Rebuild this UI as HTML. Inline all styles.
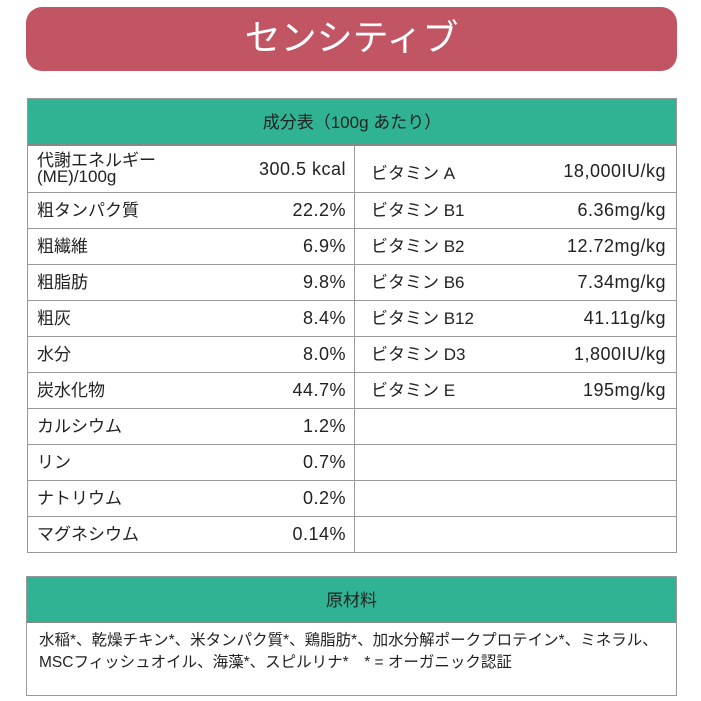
<!DOCTYPE html>
<html><head><meta charset="utf-8"><style>
body{margin:0;width:701px;height:701px;background:#fff;position:relative;font-family:"Liberation Sans","Noto Sans CJK JP",sans-serif;color:#222;overflow:hidden}
.title{position:absolute;left:26px;top:7px;width:651px;height:64px;background:#c25563;border-radius:16px;color:#fff;font-size:36px;text-align:center;line-height:62px}
.tbl{position:absolute;left:27px;top:98px;width:648px;border:1px solid #999;}
.hd{background:#2fb392;height:45px;line-height:48px;text-align:center;font-size:17px;border-bottom:2px solid #888}
.row{display:flex;height:36px;border-top:1px solid #999;box-sizing:border-box}
.c{width:327px;border-right:1px solid #999;display:flex;justify-content:space-between;align-items:baseline;padding:3px 8px 0 9px;box-sizing:border-box;font-size:17px}
.c2{flex:1;display:flex;justify-content:space-between;align-items:baseline;padding:3px 10px 0 16px;font-size:17px}
.v{font-size:18px;letter-spacing:.5px}
.ing{position:absolute;left:26px;top:576px;width:649px;height:118px;border:1px solid #999}
.ing .hd{height:44px;line-height:48px}
.txt{padding:7px 0 0 12px;font-size:15.5px;line-height:22px}
</style></head><body>
<div class="title">センシティブ</div>
<div class="tbl">
<div class="hd">成分表（100g あたり）</div>
<div class="row" style="height:46px;border-top:none"><div class="c" style="align-items:center;padding-top:0"><span style="line-height:16px;font-size:17px">代謝エネルギー<br>(ME)/100g</span><span class="v">300.5 kcal</span></div><div class="c2" style="align-items:center;padding-top:4px"><span>ビタミン A</span><span class="v">18,000IU/kg</span></div></div>
<div class="row"><div class="c"><span>粗タンパク質</span><span class="v">22.2%</span></div><div class="c2"><span>ビタミン B1</span><span class="v">6.36mg/kg</span></div></div>
<div class="row"><div class="c"><span>粗繊維</span><span class="v">6.9%</span></div><div class="c2"><span>ビタミン B2</span><span class="v">12.72mg/kg</span></div></div>
<div class="row"><div class="c"><span>粗脂肪</span><span class="v">9.8%</span></div><div class="c2"><span>ビタミン B6</span><span class="v">7.34mg/kg</span></div></div>
<div class="row"><div class="c"><span>粗灰</span><span class="v">8.4%</span></div><div class="c2"><span>ビタミン B12</span><span class="v">41.11g/kg</span></div></div>
<div class="row"><div class="c"><span>水分</span><span class="v">8.0%</span></div><div class="c2"><span>ビタミン D3</span><span class="v">1,800IU/kg</span></div></div>
<div class="row"><div class="c"><span>炭水化物</span><span class="v">44.7%</span></div><div class="c2"><span>ビタミン E</span><span class="v">195mg/kg</span></div></div>
<div class="row"><div class="c"><span>カルシウム</span><span class="v">1.2%</span></div><div class="c2"></div></div>
<div class="row"><div class="c"><span>リン</span><span class="v">0.7%</span></div><div class="c2"></div></div>
<div class="row"><div class="c"><span>ナトリウム</span><span class="v">0.2%</span></div><div class="c2"></div></div>
<div class="row"><div class="c"><span>マグネシウム</span><span class="v">0.14%</span></div><div class="c2"></div></div>
</div>
<div class="ing">
<div class="hd">原材料</div>
<div class="txt">水稲*、乾燥チキン*、米タンパク質*、鶏脂肪*、加水分解ポークプロテイン*、ミネラル、<br>MSCフィッシュオイル、海藻*、スピルリナ*　* = オーガニック認証</div>
</div>
</body></html>
